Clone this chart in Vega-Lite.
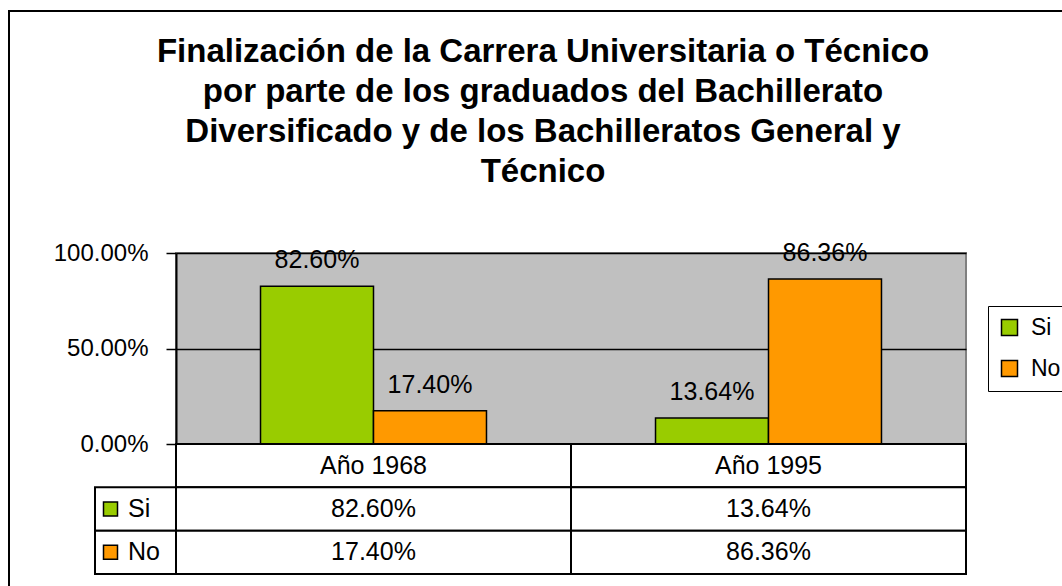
{
  "$schema": "https://vega.github.io/schema/vega-lite/v6.json",
  "padding": {"left": 8, "top": 10, "right": 0, "bottom": 0},
  "background": "white",
  "config": {"font": "Liberation Sans", "view": {"stroke": null}},
  "datasets": {
    "main": [
      {"year": "Año 1968", "series": "Si", "value": 0.826},
      {"year": "Año 1968", "series": "No", "value": 0.174},
      {"year": "Año 1995", "series": "Si", "value": 0.1364},
      {"year": "Año 1995", "series": "No", "value": 0.8636}
    ]
  },
  "resolve": {"legend": {"color": "independent"}},
  "columns": 5,
  "spacing": 0,
  "bounds": "flush",
  "align": "each",
  "concat": [
    {"width": 0.01, "height": 0.01, "data": {"values": []}, "mark": "point", "view": {"stroke": "black", "strokeWidth": 2}},
    {"width": 85, "height": 0.01, "data": {"values": []}, "mark": "point", "view": {"stroke": "black", "strokeWidth": 2}},
    {"width": 81, "height": 0.01, "data": {"values": []}, "mark": "point", "view": {"stroke": "black", "strokeWidth": 2}},
    {"width": 790, "height": 0.01, "data": {"values": []}, "mark": "point", "view": {"stroke": "black", "strokeWidth": 2}},
    {"width": 130, "height": 0.01, "data": {"values": []}, "mark": "point", "view": {"stroke": "black", "strokeWidth": 2}},

    {"width": 0.01, "height": 241, "data": {"values": []}, "mark": "point", "view": {"stroke": "black", "strokeWidth": 2}},
    {"width": 85, "height": 241, "data": {"values": []}, "mark": "point"},
    {"width": 81, "height": 241, "data": {"values": []}, "mark": "point"},
    {"width": 790, "height": 241, "data": {"values": []}, "mark": "point"},
    {"width": 130, "height": 241, "data": {"values": []}, "mark": "point"},

    {"width": 0.01, "height": 191, "data": {"values": []}, "mark": "point", "view": {"stroke": "black", "strokeWidth": 2}},
    {"width": 85, "height": 191, "data": {"values": []}, "mark": "point"},
    {"width": 81, "height": 191, "data": {"values": []}, "mark": "point"},
    {
      "width": 790,
      "height": 191,
      "data": {"name": "main"},
      "view": {"fill": "#C0C0C0", "stroke": "#808080", "strokeWidth": 2},
      "title": {
        "text": [
          "Finalización de la Carrera Universitaria o Técnico",
          "por parte de los graduados del Bachillerato",
          "Diversificado y de los Bachilleratos General  y",
          "Técnico"
        ],
        "fontSize": 33,
        "fontWeight": "bold",
        "font": "Liberation Sans",
        "lineHeight": 40,
        "anchor": "middle",
        "frame": "group",
        "dx": -28,
        "offset": 52,
        "color": "black"
      },
      "encoding": {
        "x": {"field": "year", "type": "nominal", "title": null, "scale": {"paddingInner": 0, "paddingOuter": 0}, "axis": null},
        "xOffset": {"field": "series", "type": "nominal", "sort": ["Si", "No"], "scale": {"domain": ["Si", "No"], "paddingInner": 0, "paddingOuter": 0.748}},
        "y": {
          "field": "value",
          "type": "quantitative",
          "title": null,
          "scale": {"domain": [0, 1], "nice": false},
          "axis": {
            "values": [0, 0.5, 1],
            "format": ".2%",
            "grid": true,
            "gridColor": "black",
            "gridWidth": 1.5,
            "gridOpacity": 1,
            "domainColor": "black",
            "domainWidth": 2,
            "tickColor": "black",
            "tickWidth": 1.5,
            "tickSize": 10,
            "labelPadding": 18,
            "labelFontSize": 24,
            "labelColor": "black",
            "labelFont": "Liberation Sans"
          }
        }
      },
      "layer": [
        {
          "mark": {"type": "bar", "stroke": "black", "strokeWidth": 1.5},
          "encoding": {
            "color": {
              "field": "series",
              "type": "nominal",
              "scale": {"domain": ["Si", "No"], "range": ["#99CC00", "#FF9900"]},
              "legend": {
                "title": null,
                "orient": "none",
                "legendX": 812,
                "legendY": 53,
                "direction": "vertical",
                "strokeColor": "black",
                "fillColor": "white",
                "padding": 10,
                "symbolType": "square",
                "symbolSize": 256,
                "symbolStrokeColor": "black",
                "symbolStrokeWidth": 1.5,
                "symbolOpacity": 1,
                "labelFontSize": 23,
                "labelColor": "black",
                "labelFont": "Liberation Sans",
                "rowPadding": 17,
                "labelOffset": 10
              }
            }
          }
        },
        {
          "mark": {"type": "text", "baseline": "alphabetic", "dy": -18, "fontSize": 25, "color": "black"},
          "encoding": {"text": {"field": "value", "type": "quantitative", "format": ".2%"}}
        }
      ]
    },
    {"width": 130, "height": 191, "data": {"values": []}, "mark": "point"},

    {"width": 0.01, "height": 130, "data": {"values": []}, "mark": "point", "view": {"stroke": "black", "strokeWidth": 2}},
    {"width": 85, "height": 130, "data": {"values": []}, "mark": "point"},
    {
      "width": 81,
      "height": 130,
      "data": {"name": "main"},
      "transform": [{"filter": "datum.year === 'Año 1968'"}],
      "encoding": {
        "y": {"field": "series", "type": "nominal", "scale": {"domain": ["hdr", "Si", "No"], "paddingInner": 0, "paddingOuter": 0}, "axis": null}
      },
      "layer": [
        {"mark": {"type": "rect", "fill": "white", "stroke": "black", "strokeWidth": 2}},
        {
          "mark": {"type": "point", "shape": "square", "filled": true, "size": 196, "stroke": "black", "strokeWidth": 1.5, "opacity": 1, "xOffset": -25},
          "encoding": {"color": {"field": "series", "type": "nominal", "legend": null}}
        },
        {
          "mark": {"type": "text", "align": "left", "dx": -7.5, "fontSize": 25, "color": "black"},
          "encoding": {"text": {"field": "series", "type": "nominal"}}
        }
      ]
    },
    {
      "width": 790,
      "height": 130,
      "data": {"name": "main"},
      "encoding": {
        "x": {"field": "year", "type": "nominal", "title": null, "scale": {"paddingInner": 0, "paddingOuter": 0}, "axis": null}
      },
      "layer": [
        {
          "transform": [{"filter": "datum.series === 'Si'"}],
          "mark": {"type": "rect", "fill": "white", "stroke": "black", "strokeWidth": 2},
          "encoding": {"y": {"datum": "hdr", "type": "nominal", "scale": {"domain": ["hdr", "Si", "No"], "paddingInner": 0, "paddingOuter": 0}, "axis": null}}
        },
        {
          "transform": [{"filter": "datum.series === 'Si'"}],
          "mark": {"type": "text", "fontSize": 25, "color": "black"},
          "encoding": {"y": {"datum": "hdr", "type": "nominal"}, "text": {"field": "year", "type": "nominal"}}
        },
        {
          "mark": {"type": "rect", "fill": "white", "stroke": "black", "strokeWidth": 2},
          "encoding": {"y": {"field": "series", "type": "nominal"}}
        },
        {
          "mark": {"type": "text", "fontSize": 25, "color": "black"},
          "encoding": {"y": {"field": "series", "type": "nominal"}, "text": {"field": "value", "type": "quantitative", "format": ".2%"}}
        }
      ]
    },
    {"width": 130, "height": 130, "data": {"values": []}, "mark": "point"},

    {"width": 0.01, "height": 40, "data": {"values": []}, "mark": "point", "view": {"stroke": "black", "strokeWidth": 2}},
    {"width": 85, "height": 40, "data": {"values": []}, "mark": "point"},
    {"width": 81, "height": 40, "data": {"values": []}, "mark": "point"},
    {"width": 790, "height": 40, "data": {"values": []}, "mark": "point"},
    {"width": 130, "height": 40, "data": {"values": []}, "mark": "point"}
  ]
}
